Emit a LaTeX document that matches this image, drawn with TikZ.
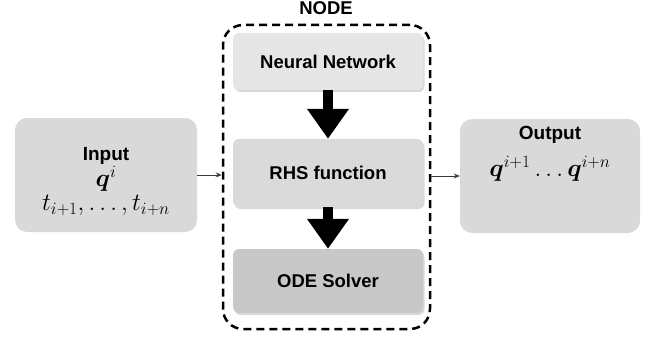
\documentclass[tikz,border=0pt]{standalone}
\usepackage{fontspec}
\setmainfont{Liberation Sans}
\usepackage{amsmath,bm}
\usetikzlibrary{positioning,arrows.meta,shadows}

\definecolor{iogray}{RGB}{217,217,217}
\definecolor{nngray}{RGB}{230,230,230}
\definecolor{rhsgray}{RGB}{218,218,218}
\definecolor{odegray}{RGB}{200,200,200}
\definecolor{linkgray}{RGB}{60,60,60}

\newcommand{\mbig}[1]{{\fontsize{23}{25}\selectfont #1}}

\tikzset{
  iobox/.style={fill=iogray, rounded corners=12pt, minimum width=182pt, minimum height=114pt,
    align=center, font=\fontsize{19}{21}\selectfont\bfseries},
  stepbox/.style={rounded corners=6pt, minimum width=190pt, inner sep=0pt,
    font=\fontsize{18.5}{21}\selectfont\bfseries,
    drop shadow={shadow xshift=1.5pt, shadow yshift=-2pt, fill=black, opacity=0.15}},
  bigarrow/.style={line width=10pt, -{Triangle[width=40pt,length=30pt]}},
  link/.style={linkgray, line width=0.8pt, -{Stealth[length=6pt,width=5pt]}}
}

\begin{document}
\begin{tikzpicture}[x=1pt,y=-1pt]
  \useasboundingbox (0,0) rectangle (651,337);

  % NODE frame
  \node[draw, line width=2.5pt, dash pattern=on 8pt off 5pt, rounded corners=20pt,
    minimum width=207pt, minimum height=304pt] (frame) at (326.5,177) {};
  \node[font=\fontsize{18.5}{21}\selectfont\bfseries] (framelbl) at (326,8) {NODE};

  % steps inside the frame
  \node[stepbox, fill=nngray, minimum height=57pt] (nn) at (328,61.5) {Neural Network};
  \node[stepbox, fill=rhsgray, minimum height=68pt] (rhs) at (328,173) {RHS function};
  \node[stepbox, fill=odegray, minimum height=64pt] (ode) at (328,281) {ODE Solver};

  % input and output
  \node[iobox] (input) at (106,175) {};
  \node[font=\fontsize{19}{21}\selectfont\bfseries, align=center, anchor=north]
    (inlbl) at (106,144)
    {Input\\[1pt]\mbig{$\bm{q}^{i}$}\\[3pt]\mbig{$t_{i+1},\ldots,t_{i+n}$}};
  \node[iobox, minimum width=180pt] (output) at (550,176) {};
  \node[font=\fontsize{19}{21}\selectfont\bfseries, align=center, anchor=north]
    (outlbl) at (550,123) {Output\\[11pt]\mbig{$\bm{q}^{i+1}\ldots\bm{q}^{i+n}$}};

  % arrows
  \draw[bigarrow] (nn.south) -- (rhs.north);
  \draw[bigarrow] (rhs.south) -- (ode.north);
  \draw[link] (input.east) -- (input.east -| frame.west);
  \draw[link] (frame.east |- output.west) -- (output.west);
\end{tikzpicture}
\end{document}
